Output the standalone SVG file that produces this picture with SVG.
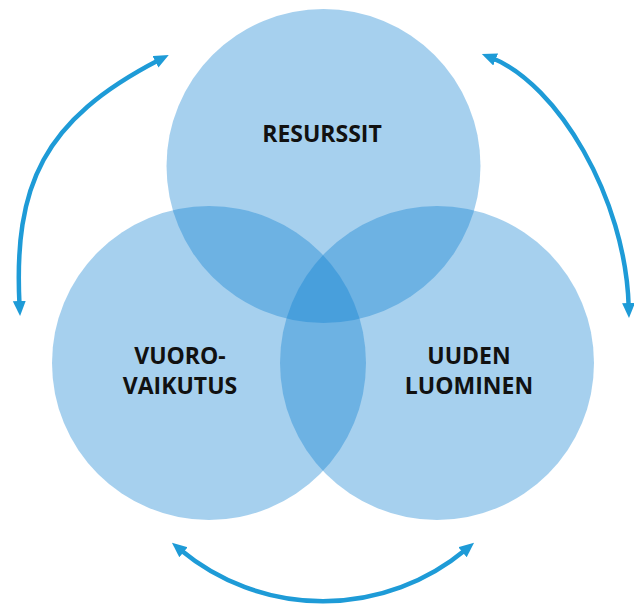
<svg xmlns="http://www.w3.org/2000/svg" width="634" height="608" viewBox="0 0 634 608">
<style>
.c{fill:#087DD0;fill-opacity:0.36}
.t{font-family:"Open Sans","Liberation Sans",sans-serif;font-weight:700;font-size:23px;fill:#111;text-anchor:middle}
.a{fill:none;stroke:#1E9BD7;stroke-width:4.5;marker-start:url(#ah);marker-end:url(#ah)}
</style>
<defs>
<marker id="ah" markerUnits="userSpaceOnUse" markerWidth="16" markerHeight="14" refX="4" refY="6.5" orient="auto-start-reverse" viewBox="0 0 16 14">
<path d="M0,0 L15,6.5 L0,13 Z" fill="#1E9BD7"/>
</marker>
</defs>
<g id="resurssit">
<circle class="c" cx="323.5" cy="166" r="157"/>
<text class="t" x="322" y="142">RESURSSIT</text>
</g>
<g id="vuorovaikutus">
<circle class="c" cx="209" cy="363" r="157"/>
<text class="t" x="180" y="364">VUORO-</text>
<text class="t" x="180" y="394">VAIKUTUS</text>
</g>
<g id="uuden-luominen">
<circle class="c" cx="437" cy="363" r="157"/>
<text class="t" x="469" y="364">UUDEN</text>
<text class="t" x="469" y="394">LUOMINEN</text>
</g>
<g id="connectors">
<path class="a" d="M159,60 C43,120 13.5,185 19.5,305"/>
<path class="a" d="M492,58 C557,84 625.7,197 628.7,307"/>
<path class="a" d="M180.4,549.7 A223,223 0 0 0 465.6,549.7"/>
</g>
</svg>
